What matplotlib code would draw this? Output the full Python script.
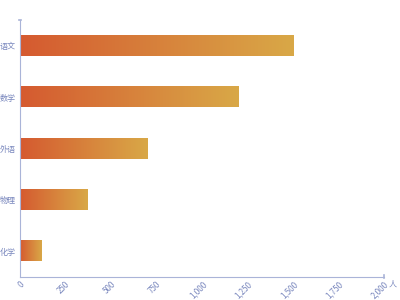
import numpy as np
import matplotlib.pyplot as plt
import matplotlib.colors as mcolors

plt.rcParams['font.family'] = ['Noto Sans CJK SC', 'DejaVu Sans']

subjects = ['语文', '数学', '外语', '物理', '化学']
counts = [1500, 1200, 700, 370, 120]
xticks = [0, 250, 500, 750, 1000, 1250, 1500, 1750, 2000]

axis_color = '#aab4d8'
text_color = '#7886bd'
grad = mcolors.LinearSegmentedColormap.from_list('g', ['#d55a30', '#d9a847'])

fig = plt.figure(figsize=(4, 3), dpi=100)
ax = fig.add_axes([0.05, 0.077, 0.91, 0.856])

n = len(subjects)
h = 0.4
ramp = np.linspace(0, 1, 256).reshape(1, -1)
for i, (name, v) in enumerate(zip(subjects, counts)):
    y = n - 1 - i
    ax.imshow(ramp, cmap=grad, aspect='auto', interpolation='bilinear',
              extent=(0, v, y - h / 2, y + h / 2), zorder=2)

ax.set_xlim(0, 2000)
ax.set_ylim(-0.5, n - 0.5)
ax.set_yticks(range(n))
ax.set_yticklabels(subjects[::-1])
ax.set_xticks(xticks)
ax.set_xticklabels([f'{t:,}' for t in xticks], rotation=45, ha='right',
                   va='top', rotation_mode='anchor')
ax.tick_params(axis='both', length=0, labelsize=5.8, colors=text_color)
ax.tick_params(axis='y', pad=3)
ax.tick_params(axis='x', pad=2)

for s in ['top', 'right']:
    ax.spines[s].set_visible(False)
for s in ['left', 'bottom']:
    ax.spines[s].set_color(axis_color)
    ax.spines[s].set_linewidth(0.8)

# small end marks on the axes
ax.plot([-0.004, 0.004], [1, 1], transform=ax.transAxes, color=axis_color,
        lw=1.2, clip_on=False)
ax.plot([1, 1], [-0.006, 0.006], transform=ax.transAxes, color=axis_color,
        lw=1.2, clip_on=False)

ax.text(1.013, -0.012, '人', transform=ax.transAxes, fontsize=5.8,
        color=text_color, ha='left', va='top')

fig.savefig('out.png', dpi=100)
